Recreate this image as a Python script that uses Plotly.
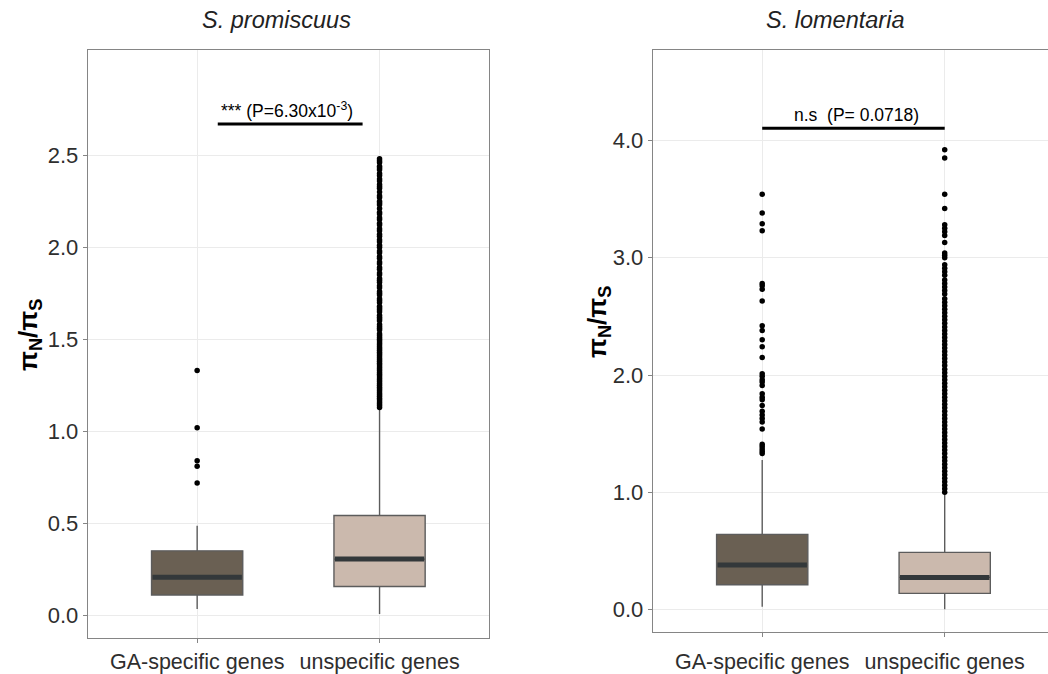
import plotly.graph_objects as go

# ---------------- data ----------------
categories = ["GA-specific genes", "unspecific genes"]
cat_pos = [1, 2]

# S. promiscuus
sp_lower = [0.035, 0.008]
sp_q1 = [0.111, 0.157]
sp_median = [0.208, 0.306]
sp_q3 = [0.351, 0.543]
sp_upper = [0.487, 1.125]
sp_out_ga = [1.33, 1.02, 0.84, 0.81, 0.72]
sp_out_un = [1.13, 1.14, 1.15, 1.16, 1.17, 1.18, 1.19, 1.20, 1.21, 1.22, 1.23, 1.24, 1.25,
             1.26, 1.27, 1.28, 1.29, 1.30, 1.31, 1.32, 1.33, 1.34, 1.35, 1.36, 1.37, 1.38,
             1.39, 1.40, 1.41, 1.42, 1.43, 1.44, 1.45, 1.46, 1.47, 1.48, 1.49, 1.50, 1.51,
             1.52, 1.53, 1.55, 1.56, 1.57, 1.58, 1.60, 1.61, 1.62, 1.63, 1.65, 1.66, 1.67,
             1.68, 1.70, 1.71, 1.72, 1.74, 1.75, 1.76, 1.78, 1.79, 1.81, 1.82, 1.83, 1.85,
             1.86, 1.88, 1.89, 1.91, 1.92, 1.94, 1.95, 1.97, 1.98, 2.00, 2.01, 2.03, 2.04,
             2.06, 2.07, 2.09, 2.10, 2.12, 2.13, 2.15, 2.16, 2.18, 2.19, 2.21, 2.23, 2.24,
             2.25, 2.27, 2.28, 2.30, 2.32, 2.33, 2.34, 2.36, 2.37, 2.39, 2.40, 2.42, 2.43,
             2.44, 2.46, 2.47, 2.48]
sp_sig_text = "*** (P=6.30x10<sup>-3</sup>)"
sp_sig_y = 2.669
sp_sig_x = [1.113, 1.907]

# S. lomentaria
sl_lower = [0.025, 0.003]
sl_q1 = [0.212, 0.139]
sl_median = [0.380, 0.275]
sl_q3 = [0.642, 0.488]
sl_upper = [1.275, 0.99]
sl_out_ga = [3.54, 3.38, 3.29, 3.23, 2.78, 2.76, 2.73, 2.63, 2.42, 2.38, 2.30, 2.24, 2.15,
             2.01, 1.99, 1.96, 1.94, 1.91, 1.84, 1.81, 1.79, 1.74, 1.69, 1.66, 1.63, 1.60,
             1.54, 1.41, 1.39, 1.37, 1.35, 1.33]
sl_out_un = [3.92, 3.85, 3.54, 3.42, 3.28, 3.25, 3.22, 3.19, 3.13, 3.04, 3.02, 3.00, 2.94,
             2.91, 2.88, 2.85, 2.81, 2.78, 2.75, 2.72, 2.69, 2.65, 2.62, 2.59, 2.56, 2.53,
             2.50, 2.47, 2.44, 2.41, 2.38, 2.35, 2.32, 2.29, 2.26, 2.23, 2.20, 2.17, 2.14,
             2.11, 2.08, 2.05, 2.02, 1.99, 1.96, 1.93, 1.90, 1.87, 1.84, 1.81, 1.78, 1.75,
             1.72, 1.69, 1.66, 1.63, 1.60, 1.57, 1.54, 1.51, 1.48, 1.45, 1.42, 1.39, 1.36,
             1.33, 1.30, 1.27, 1.24, 1.21, 1.18, 1.15, 1.12, 1.09, 1.06, 1.03, 1.00]
sl_sig_text = "n.s  (P= 0.0718)"
sl_sig_y = 4.103
sl_sig_x = [1.0, 2.0]

titles = ["<i>S. promiscuus</i>", "<i>S. lomentaria</i>"]

# ---------------- style ----------------
FONT = "Arial, 'Liberation Sans', sans-serif"
fills = ["#6a6053", "#cbb9ad"]
BOX_W = 0.5
MED_COLOR = "#33383a"
GRID = "#ebebeb"
BORDER = "#858585"
TXT = "#2e2e2e"

fig = go.Figure()


def add_panel(xa, ya, lower, q1, med, q3, upper, out_ga, out_un):
    for i in range(2):
        fig.add_trace(go.Box(
            x=[cat_pos[i]], q1=[q1[i]], median=[med[i]], q3=[q3[i]],
            lowerfence=[lower[i]], upperfence=[upper[i]],
            width=BOX_W, whiskerwidth=0, boxpoints=False,
            fillcolor=fills[i], line=dict(color="#5c5c5c", width=1.4),
            xaxis=xa, yaxis=ya, showlegend=False, hoverinfo="skip"))
        fig.add_trace(go.Scatter(
            x=[cat_pos[i] - BOX_W / 2 + 0.005, cat_pos[i] + BOX_W / 2 - 0.005],
            y=[med[i], med[i]], mode="lines",
            line=dict(color=MED_COLOR, width=5),
            xaxis=xa, yaxis=ya, showlegend=False, hoverinfo="skip"))
    for i, outs in enumerate([out_ga, out_un]):
        fig.add_trace(go.Scatter(
            x=[cat_pos[i]] * len(outs), y=outs, mode="markers",
            marker=dict(color="black", size=5.5),
            xaxis=xa, yaxis=ya, showlegend=False, hoverinfo="skip"))


add_panel("x", "y", sp_lower, sp_q1, sp_median, sp_q3, sp_upper, sp_out_ga, sp_out_un)
add_panel("x2", "y2", sl_lower, sl_q1, sl_median, sl_q3, sl_upper, sl_out_ga, sl_out_un)

# significance bars
fig.add_trace(go.Scatter(x=sp_sig_x, y=[sp_sig_y, sp_sig_y], mode="lines",
                         line=dict(color="black", width=3), xaxis="x", yaxis="y",
                         showlegend=False, hoverinfo="skip"))
fig.add_trace(go.Scatter(x=sl_sig_x, y=[sl_sig_y, sl_sig_y], mode="lines",
                         line=dict(color="black", width=3), xaxis="x2", yaxis="y2",
                         showlegend=False, hoverinfo="skip"))

W, H = 1048, 674
common_x = dict(tickvals=cat_pos, ticktext=categories, showgrid=True, gridcolor=GRID,
                gridwidth=1, zeroline=False, showline=True, mirror=True, linecolor=BORDER,
                linewidth=1, ticks="outside", ticklen=4, tickcolor=BORDER,
                tickfont=dict(family=FONT, size=21.5, color=TXT))
common_y = dict(showgrid=True, gridcolor=GRID, gridwidth=1, zeroline=False, showline=True,
                mirror=True, linecolor=BORDER, linewidth=1, ticks="outside", ticklen=4,
                tickcolor=BORDER, tickfont=dict(family=FONT, size=22, color=TXT))

fig.update_layout(
    width=W, height=H, margin=dict(l=0, r=0, t=0, b=0),
    paper_bgcolor="white", plot_bgcolor="white", showlegend=False,
    xaxis=dict(domain=[87.7 / W, 489 / W], range=[0.4, 2.6], **common_x),
    yaxis=dict(domain=[(H - 638.3) / H, (H - 50) / H], range=[-0.124, 3.071],
               tickvals=[0, 0.5, 1.0, 1.5, 2.0, 2.5],
               ticktext=["0.0", "0.5", "1.0", "1.5", "2.0", "2.5"], **common_y),
    xaxis2=dict(domain=[652.7 / W, 1.0], range=[0.4, 0.4 + (W - 652.7) / 182.5],
                anchor="y2", ticklabelstandoff=6, **common_x),
    yaxis2=dict(domain=[(H - 632.3) / H, (H - 50) / H], range=[-0.193, 4.77], anchor="x2",
                tickvals=[0, 1, 2, 3, 4], ticktext=["0.0", "1.0", "2.0", "3.0", "4.0"],
                **common_y),
)

ann = []
ann.append(dict(text=titles[0], x=276 / W, y=1 - 20 / H, xref="paper", yref="paper",
                xanchor="center", yanchor="middle",
                showarrow=False, font=dict(family=FONT, size=23.5, color="#222222")))
ann.append(dict(text=titles[1], x=834.5 / W, y=1 - 20 / H, xref="paper", yref="paper",
                xanchor="center", yanchor="middle",
                showarrow=False, font=dict(family=FONT, size=23.5, color="#222222")))
ytitle = "<b>π<sub>N</sub>/π<sub>S</sub></b>"
ann.append(dict(text=ytitle, x=29 / W, y=1 - 335 / H, xref="paper", yref="paper",
                xanchor="center", yanchor="middle",
                textangle=-90, showarrow=False, font=dict(family=FONT, size=26, color="black")))
ann.append(dict(text=ytitle, x=599 / W, y=1 - 322 / H, xref="paper", yref="paper",
                xanchor="center", yanchor="middle",
                textangle=-90, showarrow=False, font=dict(family=FONT, size=26, color="black")))
ann.append(dict(text=sp_sig_text, x=1.494, y=2.745, xref="x", yref="y", showarrow=False,
                xanchor="center", yanchor="middle",
                font=dict(family=FONT, size=17.5, color="black")))
ann.append(dict(text=sl_sig_text, x=1.514, y=4.217, xref="x2", yref="y2", showarrow=False,
                xanchor="center", yanchor="middle",
                font=dict(family=FONT, size=17.5, color="black")))
fig.update_layout(annotations=ann)

fig.write_html("out.html", config={"displayModeBar": False},
               post_script="document.body.style.margin='0';document.body.style.padding='0';document.body.style.overflow='hidden';")
